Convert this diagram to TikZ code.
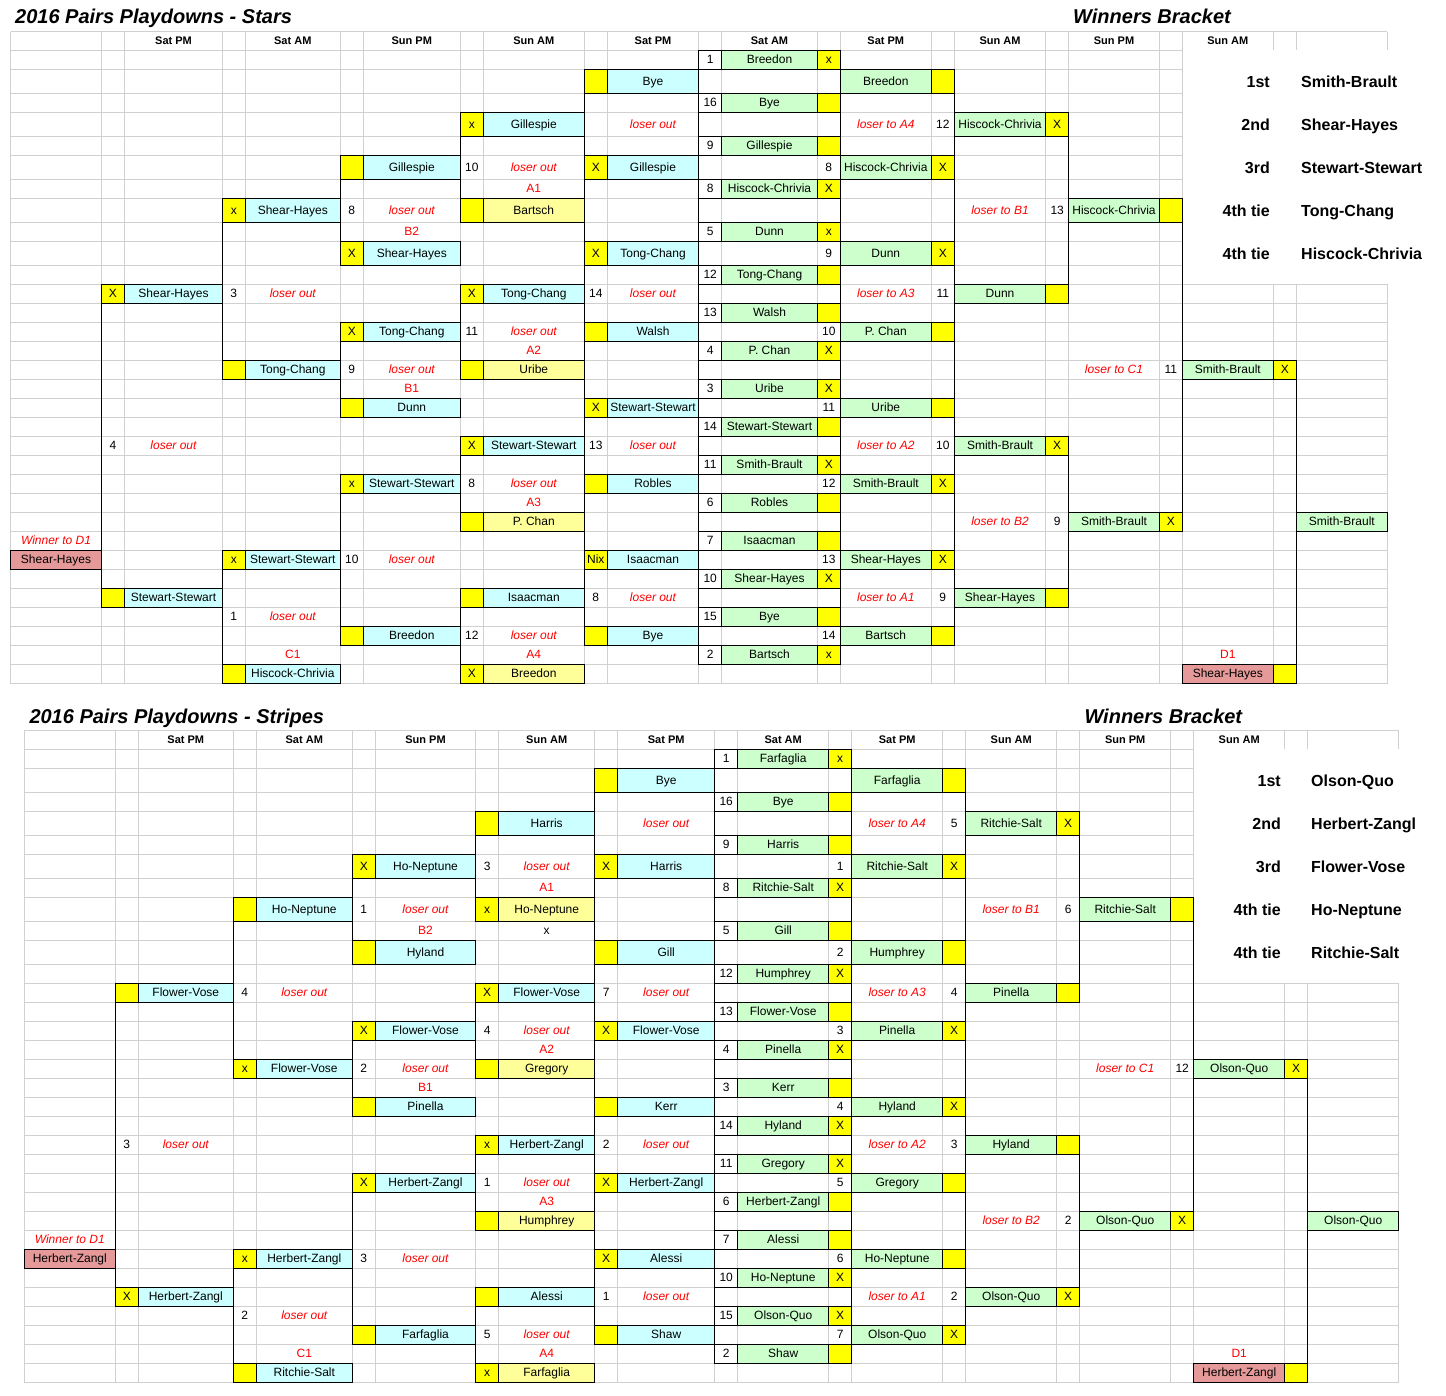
\documentclass[tikz,border=0pt]{standalone}
\usepackage{fontspec}
\setmainfont{Liberation Sans}
\definecolor{losercyan}{HTML}{CCFFFF}
\definecolor{winnergreen}{HTML}{CCFFCC}
\definecolor{lemon}{HTML}{FFFF99}
\definecolor{markyellow}{HTML}{FFFF00}
\definecolor{finalpink}{HTML}{E59999}
\definecolor{gridgray}{HTML}{D0D0D0}
\definecolor{noteRed}{HTML}{FF0000}

\pgfkeys{/colnr/.cd,A/.initial=1,B/.initial=2,C/.initial=3,D/.initial=4,E/.initial=5,
  F/.initial=6,G/.initial=7,H/.initial=8,I/.initial=9,J/.initial=10,K/.initial=11,L/.initial=12,
  M/.initial=13,N/.initial=14,O/.initial=15,P/.initial=16,Q/.initial=17,R/.initial=18,
  S/.initial=19,T/.initial=20,U/.initial=21,V/.initial=22,W/.initial=23}

% row 2,4,...,10 are taller than the others
\newcommand\rowtop[1]{\pgfmathsetmacro\yt{\secT+19*(#1)+5*min(max(floor(((#1)-1)/2),0),5)}}
\newcommand\cellgeom[2]{%
  \pgfmathtruncatemacro\cidx{\pgfkeysvalueof{/colnr/#1}}%
  \pgfmathsetmacro\xl{\edges[\cidx-1]}%
  \pgfmathsetmacro\xr{\edges[\cidx]}%
  \pgfmathsetmacro\cw{\xr-\xl}%
  \rowtop{#2}%
  \pgfmathsetmacro\cellh{19+5*(1-mod(#2,2))*((#2)>1)*((#2)<11)}}
\newcommand\gridlines{%
  \foreach \rr in {0,...,33}{\rowtop{\rr}\draw[gridline] (\gleft,\yt) -- (\gright,\yt);}%
  \pgfmathsetmacro\ybot{\secT+652}%
  \foreach \x in \edgelist {\draw[gridline] (\x,\secT) -- (\x,\ybot);}}

\def\headcells{C/0/hcell/Sat PM,E/0/hcell/Sat AM,G/0/hcell/Sun PM,I/0/hcell/Sun AM,K/0/hcell/Sat PM,%
  M/0/hcell/Sat AM,O/0/hcell/Sat PM,Q/0/hcell/Sun AM,S/0/hcell/Sun PM,U/0/hcell/Sun AM}

\def\starcells{%
  L/1/scell/1,M/1/wcell/Breedon,N/1/mcell/x,%
  J/2/mcell/{},K/2/lcell/Bye,O/2/wcell/Breedon,P/2/mcell/{},%
  L/3/scell/16,M/3/wcell/Bye,N/3/mcell/{},%
  H/4/mcell/x,I/4/lcell/Gillespie,K/4/rtxt/loser out,O/4/rtxt/loser to A4,P/4/ntxt/12,Q/4/wcell/Hiscock-Chrivia,R/4/mcell/X,%
  L/5/scell/9,M/5/wcell/Gillespie,N/5/mcell/{},%
  F/6/mcell/{},G/6/lcell/Gillespie,H/6/ntxt/10,I/6/rtxt/loser out,J/6/mcell/X,K/6/lcell/Gillespie,N/6/ntxt/8,O/6/wcell/Hiscock-Chrivia,P/6/mcell/X,%
  I/7/rlab/A1,L/7/scell/8,M/7/wcell/Hiscock-Chrivia,N/7/mcell/X,%
  D/8/mcell/x,E/8/lcell/Shear-Hayes,F/8/ntxt/8,G/8/rtxt/loser out,H/8/mcell/{},I/8/acell/Bartsch,Q/8/rtxt/loser to B1,R/8/ntxt/13,S/8/wcell/Hiscock-Chrivia,T/8/mcell/{},%
  G/9/rlab/B2,L/9/scell/5,M/9/wcell/Dunn,N/9/mcell/x,%
  F/10/mcell/X,G/10/lcell/Shear-Hayes,J/10/mcell/X,K/10/lcell/Tong-Chang,N/10/ntxt/9,O/10/wcell/Dunn,P/10/mcell/X,%
  L/11/scell/12,M/11/wcell/Tong-Chang,N/11/mcell/{},%
  B/12/mcell/X,C/12/lcell/Shear-Hayes,D/12/ntxt/3,E/12/rtxt/loser out,H/12/mcell/X,I/12/lcell/Tong-Chang,J/12/ntxt/14,K/12/rtxt/loser out,O/12/rtxt/loser to A3,P/12/ntxt/11,Q/12/wcell/Dunn,R/12/mcell/{},%
  L/13/scell/13,M/13/wcell/Walsh,N/13/mcell/{},%
  F/14/mcell/X,G/14/lcell/Tong-Chang,H/14/ntxt/11,I/14/rtxt/loser out,J/14/mcell/{},K/14/lcell/Walsh,N/14/ntxt/10,O/14/wcell/P. Chan,P/14/mcell/{},%
  I/15/rlab/A2,L/15/scell/4,M/15/wcell/P. Chan,N/15/mcell/X,%
  D/16/mcell/{},E/16/lcell/Tong-Chang,F/16/ntxt/9,G/16/rtxt/loser out,H/16/mcell/{},I/16/acell/Uribe,S/16/rtxt/loser to C1,T/16/ntxt/11,U/16/wcell/Smith-Brault,V/16/mcell/X,%
  G/17/rlab/B1,L/17/scell/3,M/17/wcell/Uribe,N/17/mcell/X,%
  F/18/mcell/{},G/18/lcell/Dunn,J/18/mcell/X,K/18/lcell/Stewart-Stewart,N/18/ntxt/11,O/18/wcell/Uribe,P/18/mcell/{},%
  L/19/scell/14,M/19/wcell/Stewart-Stewart,N/19/mcell/{},%
  B/20/ntxt/4,C/20/rtxt/loser out,H/20/mcell/X,I/20/lcell/Stewart-Stewart,J/20/ntxt/13,K/20/rtxt/loser out,O/20/rtxt/loser to A2,P/20/ntxt/10,Q/20/wcell/Smith-Brault,R/20/mcell/X,%
  L/21/scell/11,M/21/wcell/Smith-Brault,N/21/mcell/X,%
  F/22/mcell/x,G/22/lcell/Stewart-Stewart,H/22/ntxt/8,I/22/rtxt/loser out,J/22/mcell/{},K/22/lcell/Robles,N/22/ntxt/12,O/22/wcell/Smith-Brault,P/22/mcell/X,%
  I/23/rlab/A3,L/23/scell/6,M/23/wcell/Robles,N/23/mcell/{},%
  H/24/mcell/{},I/24/acell/P. Chan,Q/24/rtxt/loser to B2,R/24/ntxt/9,S/24/wcell/Smith-Brault,T/24/mcell/X,W/24/wcell/Smith-Brault,%
  A/25/rtxt/Winner to D1,L/25/scell/7,M/25/wcell/Isaacman,N/25/mcell/{},%
  A/26/pcell/Shear-Hayes,D/26/mcell/x,E/26/lcell/Stewart-Stewart,F/26/ntxt/10,G/26/rtxt/loser out,J/26/mcell/Nix,K/26/lcell/Isaacman,N/26/ntxt/13,O/26/wcell/Shear-Hayes,P/26/mcell/X,%
  L/27/scell/10,M/27/wcell/Shear-Hayes,N/27/mcell/X,%
  B/28/mcell/{},C/28/lcell/Stewart-Stewart,H/28/mcell/{},I/28/lcell/Isaacman,J/28/ntxt/8,K/28/rtxt/loser out,O/28/rtxt/loser to A1,P/28/ntxt/9,Q/28/wcell/Shear-Hayes,R/28/mcell/{},%
  D/29/ntxt/1,E/29/rtxt/loser out,L/29/scell/15,M/29/wcell/Bye,N/29/mcell/{},%
  F/30/mcell/{},G/30/lcell/Breedon,H/30/ntxt/12,I/30/rtxt/loser out,J/30/mcell/{},K/30/lcell/Bye,N/30/ntxt/14,O/30/wcell/Bartsch,P/30/mcell/{},%
  E/31/rlab/C1,I/31/rlab/A4,L/31/scell/2,M/31/wcell/Bartsch,N/31/mcell/x,U/31/rlab/D1,%
  D/32/mcell/{},E/32/lcell/Hiscock-Chrivia,H/32/mcell/X,I/32/acell/Breedon,U/32/pcell/Shear-Hayes,V/32/mcell/{}}

\def\stripecells{%
  L/1/scell/1,M/1/wcell/Farfaglia,N/1/mcell/x,%
  J/2/mcell/{},K/2/lcell/Bye,O/2/wcell/Farfaglia,P/2/mcell/{},%
  L/3/scell/16,M/3/wcell/Bye,N/3/mcell/{},%
  H/4/mcell/{},I/4/lcell/Harris,K/4/rtxt/loser out,O/4/rtxt/loser to A4,P/4/ntxt/5,Q/4/wcell/Ritchie-Salt,R/4/mcell/X,%
  L/5/scell/9,M/5/wcell/Harris,N/5/mcell/{},%
  F/6/mcell/X,G/6/lcell/Ho-Neptune,H/6/ntxt/3,I/6/rtxt/loser out,J/6/mcell/X,K/6/lcell/Harris,N/6/ntxt/1,O/6/wcell/Ritchie-Salt,P/6/mcell/X,%
  I/7/rlab/A1,L/7/scell/8,M/7/wcell/Ritchie-Salt,N/7/mcell/X,%
  D/8/mcell/{},E/8/lcell/Ho-Neptune,F/8/ntxt/1,G/8/rtxt/loser out,H/8/mcell/x,I/8/acell/Ho-Neptune,Q/8/rtxt/loser to B1,R/8/ntxt/6,S/8/wcell/Ritchie-Salt,T/8/mcell/{},%
  G/9/rlab/B2,I/9/ntxt/x,L/9/scell/5,M/9/wcell/Gill,N/9/mcell/{},%
  F/10/mcell/{},G/10/lcell/Hyland,J/10/mcell/{},K/10/lcell/Gill,N/10/ntxt/2,O/10/wcell/Humphrey,P/10/mcell/{},%
  L/11/scell/12,M/11/wcell/Humphrey,N/11/mcell/X,%
  B/12/mcell/{},C/12/lcell/Flower-Vose,D/12/ntxt/4,E/12/rtxt/loser out,H/12/mcell/X,I/12/lcell/Flower-Vose,J/12/ntxt/7,K/12/rtxt/loser out,O/12/rtxt/loser to A3,P/12/ntxt/4,Q/12/wcell/Pinella,R/12/mcell/{},%
  L/13/scell/13,M/13/wcell/Flower-Vose,N/13/mcell/{},%
  F/14/mcell/X,G/14/lcell/Flower-Vose,H/14/ntxt/4,I/14/rtxt/loser out,J/14/mcell/X,K/14/lcell/Flower-Vose,N/14/ntxt/3,O/14/wcell/Pinella,P/14/mcell/X,%
  I/15/rlab/A2,L/15/scell/4,M/15/wcell/Pinella,N/15/mcell/X,%
  D/16/mcell/x,E/16/lcell/Flower-Vose,F/16/ntxt/2,G/16/rtxt/loser out,H/16/mcell/{},I/16/acell/Gregory,S/16/rtxt/loser to C1,T/16/ntxt/12,U/16/wcell/Olson-Quo,V/16/mcell/X,%
  G/17/rlab/B1,L/17/scell/3,M/17/wcell/Kerr,N/17/mcell/{},%
  F/18/mcell/{},G/18/lcell/Pinella,J/18/mcell/{},K/18/lcell/Kerr,N/18/ntxt/4,O/18/wcell/Hyland,P/18/mcell/X,%
  L/19/scell/14,M/19/wcell/Hyland,N/19/mcell/X,%
  B/20/ntxt/3,C/20/rtxt/loser out,H/20/mcell/x,I/20/lcell/Herbert-Zangl,J/20/ntxt/2,K/20/rtxt/loser out,O/20/rtxt/loser to A2,P/20/ntxt/3,Q/20/wcell/Hyland,R/20/mcell/{},%
  L/21/scell/11,M/21/wcell/Gregory,N/21/mcell/X,%
  F/22/mcell/X,G/22/lcell/Herbert-Zangl,H/22/ntxt/1,I/22/rtxt/loser out,J/22/mcell/X,K/22/lcell/Herbert-Zangl,N/22/ntxt/5,O/22/wcell/Gregory,P/22/mcell/{},%
  I/23/rlab/A3,L/23/scell/6,M/23/wcell/Herbert-Zangl,N/23/mcell/{},%
  H/24/mcell/{},I/24/acell/Humphrey,Q/24/rtxt/loser to B2,R/24/ntxt/2,S/24/wcell/Olson-Quo,T/24/mcell/X,W/24/wcell/Olson-Quo,%
  A/25/rtxt/Winner to D1,L/25/scell/7,M/25/wcell/Alessi,N/25/mcell/{},%
  A/26/pcell/Herbert-Zangl,D/26/mcell/x,E/26/lcell/Herbert-Zangl,F/26/ntxt/3,G/26/rtxt/loser out,J/26/mcell/X,K/26/lcell/Alessi,N/26/ntxt/6,O/26/wcell/Ho-Neptune,P/26/mcell/{},%
  L/27/scell/10,M/27/wcell/Ho-Neptune,N/27/mcell/X,%
  B/28/mcell/X,C/28/lcell/Herbert-Zangl,H/28/mcell/{},I/28/lcell/Alessi,J/28/ntxt/1,K/28/rtxt/loser out,O/28/rtxt/loser to A1,P/28/ntxt/2,Q/28/wcell/Olson-Quo,R/28/mcell/X,%
  D/29/ntxt/2,E/29/rtxt/loser out,L/29/scell/15,M/29/wcell/Olson-Quo,N/29/mcell/X,%
  F/30/mcell/{},G/30/lcell/Farfaglia,H/30/ntxt/5,I/30/rtxt/loser out,J/30/mcell/{},K/30/lcell/Shaw,N/30/ntxt/7,O/30/wcell/Olson-Quo,P/30/mcell/X,%
  E/31/rlab/C1,I/31/rlab/A4,L/31/scell/2,M/31/wcell/Shaw,N/31/mcell/{},U/31/rlab/D1,%
  D/32/mcell/{},E/32/lcell/Ritchie-Salt,H/32/mcell/x,I/32/acell/Farfaglia,U/32/pcell/Herbert-Zangl,V/32/mcell/{}}

% bracket lines: losers side on the west edge, winners side on the east edge
\def\westpairs{J/2/30,H/4/8,H/12/16,H/20/24,H/28/32,%
  F/6/10,F/14/18,F/22/30,D/8/16,D/26/32,B/12/28,L/1/31}
\def\eastpairs{N/1/31,P/2/30,R/4/12,R/20/28,T/8/24,V/16/32}

\begin{document}
\begin{tikzpicture}[x=1pt, y=-1pt,
  gridline/.style={draw=gridgray, line width=1pt},
  bline/.style={draw=black, line width=1pt},
  cellbase/.style={inner sep=0pt, outer sep=0pt, text height=9pt, text depth=2pt,
    font=\fontsize{12}{14}\selectfont, line width=1pt},
  lcell/.style={cellbase, draw, fill=losercyan},
  wcell/.style={cellbase, draw, fill=winnergreen},
  acell/.style={cellbase, draw, fill=lemon},
  mcell/.style={cellbase, draw, fill=markyellow},
  scell/.style={cellbase, draw, fill=white},
  pcell/.style={cellbase, draw, fill=finalpink},
  ntxt/.style={cellbase},
  rtxt/.style={cellbase, text=noteRed, font=\fontsize{12}{14}\selectfont\itshape},
  rlab/.style={cellbase, text=noteRed},
  hcell/.style={cellbase, font=\fontsize{11}{13}\selectfont\bfseries},
  sheettitle/.style={anchor=base west, inner sep=0pt, font=\fontsize{20}{24}\selectfont\bfseries\itshape},
  standing/.style={inner sep=0pt, text height=12pt, text depth=0.6pt, font=\fontsize{16}{19}\selectfont\bfseries}]
\useasboundingbox (0,0) rectangle (1446,1396);
\fill[white] (0,0) rectangle (1446,1396);

% ---- Stars ----
\def\brk{s}\def\secT{31.7}
\def\edgelist{10.7,101.3,124.7,222.3,245.3,340.3,363.3,460.3,483.3,584.3,607.3,698.7,721.7,817.3,840.3,931.3,954.3,1045.7,1068.7,1159.3,1182.3,1273.3,1296.3,1387.3}
\edef\edges{{\edgelist}}
\def\gleft{10.7}\def\gright{1387.3}
\gridlines
\fill[white] ({1182.3+0.6},{\secT+18.4}) rectangle (1446,{\secT+252.4});
\foreach \cl/\rw/\st/\tx in \headcells {\cellgeom{\cl}{\rw}
  \node[\st, minimum width=\cw*1pt, minimum height=\cellh*1pt] (\brk-\cl\rw) at ({(\xl+\xr)/2},{\yt+\cellh/2}) {\tx};}
\foreach \cl/\rw/\st/\tx in \starcells {\cellgeom{\cl}{\rw}
  \node[\st, minimum width=\cw*1pt, minimum height=\cellh*1pt] (\brk-\cl\rw) at ({(\xl+\xr)/2},{\yt+\cellh/2}) {\tx};}
\foreach \cl/\fromr/\tor in \westpairs \draw[bline] (\brk-\cl\fromr.north west) -- (\brk-\cl\tor.south west);
\foreach \cl/\fromr/\tor in \eastpairs \draw[bline] (\brk-\cl\fromr.north east) -- (\brk-\cl\tor.south east);
\node[sheettitle] (s-title) at (15,24) {2016 Pairs Playdowns - Stars};
\node[sheettitle] (s-wtitle) at (1073,24) {Winners Bracket};
\foreach \rw/\rk/\tm [count=\nr] in {2/1st/Smith-Brault,4/2nd/Shear-Hayes,6/3rd/Stewart-Stewart,8/4th tie/Tong-Chang,10/4th tie/Hiscock-Chrivia}{
  \rowtop{\rw}\pgfmathsetmacro\ym{\yt+12}
  \node[standing, anchor=east] (s-rank\nr) at (1270,\ym) {\rk};
  \node[standing, anchor=west] (s-team\nr) at (1301,\ym) {\tm};}

% ---- Stripes ----
\def\brk{t}\def\secT{730.7}
\def\edgelist{24.3,115.3,138.3,233.3,256.3,352.3,375.3,475.7,498.7,594.7,617.7,714.7,737.7,828.7,851.7,942.7,965.7,1056.7,1079.7,1170.7,1193.7,1284.7,1307.7,1398.7}
\edef\edges{{\edgelist}}
\def\gleft{24.3}\def\gright{1398.7}
\gridlines
\fill[white] ({1193.7+0.6},{\secT+18.4}) rectangle (1446,{\secT+252.4});
\foreach \cl/\rw/\st/\tx in \headcells {\cellgeom{\cl}{\rw}
  \node[\st, minimum width=\cw*1pt, minimum height=\cellh*1pt] (\brk-\cl\rw) at ({(\xl+\xr)/2},{\yt+\cellh/2}) {\tx};}
\foreach \cl/\rw/\st/\tx in \stripecells {\cellgeom{\cl}{\rw}
  \node[\st, minimum width=\cw*1pt, minimum height=\cellh*1pt] (\brk-\cl\rw) at ({(\xl+\xr)/2},{\yt+\cellh/2}) {\tx};}
\foreach \cl/\fromr/\tor in \westpairs \draw[bline] (\brk-\cl\fromr.north west) -- (\brk-\cl\tor.south west);
\foreach \cl/\fromr/\tor in \eastpairs \draw[bline] (\brk-\cl\fromr.north east) -- (\brk-\cl\tor.south east);
\node[sheettitle] (t-title) at (29.3,723.3) {2016 Pairs Playdowns - Stripes};
\node[sheettitle] (t-wtitle) at (1084.3,723.3) {Winners Bracket};
\foreach \rw/\rk/\tm [count=\nr] in {2/1st/Olson-Quo,4/2nd/Herbert-Zangl,6/3rd/Flower-Vose,8/4th tie/Ho-Neptune,10/4th tie/Ritchie-Salt}{
  \rowtop{\rw}\pgfmathsetmacro\ym{\yt+12}
  \node[standing, anchor=east] (t-rank\nr) at (1281,\ym) {\rk};
  \node[standing, anchor=west] (t-team\nr) at (1311,\ym) {\tm};}
\end{tikzpicture}
\end{document}
